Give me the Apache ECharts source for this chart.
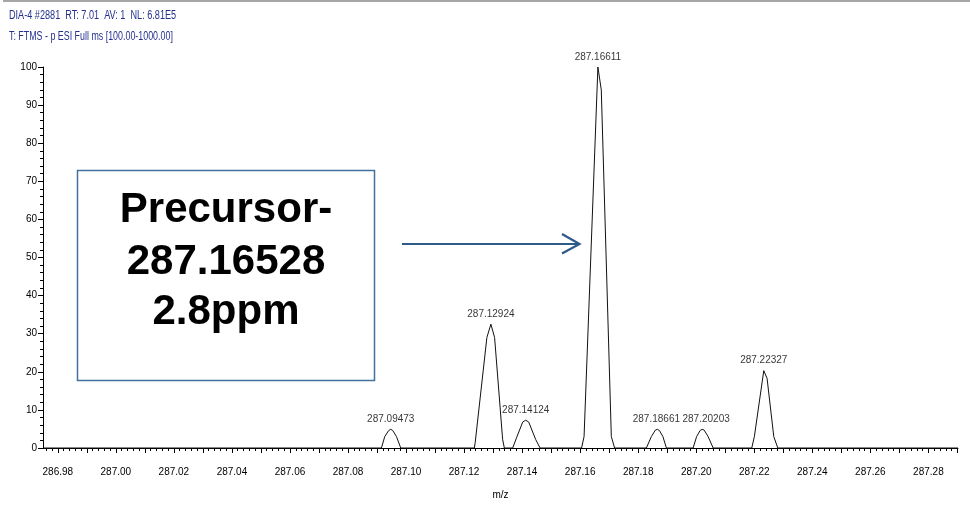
<!DOCTYPE html>
<html><head><meta charset="utf-8">
<script src="https://cdn.jsdelivr.net/npm/echarts@6/dist/echarts.min.js"></script>
<style>html,body{margin:0;padding:0;background:#fff}#c{width:970px;height:505px}</style>
</head><body><div id="c"></div>
<script>
// ---- data ----
const headerLine1 = 'DIA-4 #2881  RT: 7.01  AV: 1  NL: 6.81E5';
const headerLine2 = 'T: FTMS - p ESI Full ms [100.00-1000.00]';
const xTickLabels = ['286.98','287.00','287.02','287.04','287.06','287.08','287.10','287.12','287.14','287.16','287.18','287.20','287.22','287.24','287.26','287.28'];
const yTickLabels = ['0','10','20','30','40','50','60','70','80','90','100'];
const xAxisTitle = 'm/z';
const profileMz = [
  286.9749,
  287.09152, 287.09266, 287.09404, 287.09473, 287.09542, 287.09670, 287.09818,
  287.12354, 287.12384, 287.12786, 287.12924, 287.13052, 287.13328, 287.13387,
  287.13675, 287.13813, 287.14020, 287.14124, 287.14228, 287.14469, 287.14618,
  287.16048, 287.16135, 287.16611, 287.16728, 287.17074, 287.17187,
  287.18281, 287.18454, 287.18592, 287.18661, 287.18730, 287.18851, 287.18972,
  287.19892, 287.20013, 287.20134, 287.20203, 287.20272, 287.20410, 287.20583,
  287.21913, 287.22003, 287.22327, 287.22441, 287.22672, 287.22810,
  287.2902
];
const profileIntensity = [
  0,
  0, 3, 4.6, 4.9, 4.6, 3, 0,
  0, 1.5, 29, 32.5, 29, 2.3, 0,
  0, 2.8, 6.8, 7.3, 6.8, 2.2, 0,
  0, 3, 100, 94, 3, 0,
  0, 3, 4.7, 4.9, 4.6, 3, 0,
  0, 3, 4.6, 4.9, 4.7, 3, 0,
  0, 3, 20.3, 18.3, 3, 0,
  0
];
const peakMz = [287.09473, 287.12924, 287.14124, 287.16611, 287.18661, 287.20203, 287.22327];
const peakIntensity = [4.9, 32.5, 7.3, 100, 4.9, 4.9, 20.3];
const peakLabels = ['287.09473','287.12924','287.14124','287.16611','287.18661','287.20203','287.22327'];
const annotationLines = ['Precursor-', '287.16528', '2.8ppm'];

// ---- chart ----
const FONT = '"Liberation Sans", Arial, sans-serif';
const xMin = 286.9749, xMax = 287.2902;
const majorTicks = [];
for (let i = 0; i <= 31; i++) majorTicks.push(+(286.98 + i * 0.01).toFixed(2));
const minorTicks = [];
for (let i = 0; i <= 157; i++) minorTicks.push(+(286.976 + i * 0.002).toFixed(3));
const labelShift = [0, 0, 0, 0, -1, 4, 0];

const chart = echarts.init(document.getElementById('c'), null, {renderer: 'canvas'});
const labelStyle = {color: '#000', fontFamily: FONT, fontSize: 10};
chart.setOption({
  animation: false,
  backgroundColor: '#fff',
  grid: {left: 43, right: 12, top: 67, bottom: 53, containLabel: false},
  xAxis: [{
    type: 'value', min: xMin, max: xMax, position: 'bottom',
    name: xAxisTitle, nameLocation: 'middle', nameGap: 42,
    nameTextStyle: {color: '#000', fontFamily: FONT, fontSize: 10},
    axisLine: {show: true, lineStyle: {color: '#000', width: 1}},
    axisTick: {show: true, length: 5, customValues: majorTicks, lineStyle: {color: '#000'}},
    axisLabel: Object.assign({customValues: xTickLabels.map(Number), margin: 19,
      formatter: v => (+v).toFixed(2)}, labelStyle),
    splitLine: {show: false}
  }, {
    type: 'value', min: xMin, max: xMax, position: 'bottom',
    axisLine: {show: false},
    axisTick: {show: true, length: 3, customValues: minorTicks, lineStyle: {color: '#000'}},
    axisLabel: {show: false},
    splitLine: {show: false}
  }],
  yAxis: {
    type: 'value', min: 0, max: 100, interval: 10,
    axisLine: {show: true, lineStyle: {color: '#000', width: 1}},
    axisTick: {show: true, length: 5, lineStyle: {color: '#000'}},
    minorTick: {show: true, splitNumber: 5, length: 3, lineStyle: {color: '#000'}},
    axisLabel: Object.assign({margin: 6, formatter: v => yTickLabels[Math.round(v / 10)]}, labelStyle),
    splitLine: {show: false}
  },
  series: [{
    type: 'line', xAxisIndex: 0,
    data: profileMz.map((m, i) => [m, profileIntensity[i]]),
    showSymbol: false, symbol: 'none',
    lineStyle: {color: '#111', width: 1},
    clip: false, z: 3
  }, {
    type: 'scatter', xAxisIndex: 0,
    data: peakMz.map((m, i) => ({value: [m, peakIntensity[i]], label: {offset: [labelShift[i], 0]}})),
    symbolSize: 0.1,
    itemStyle: {color: 'rgba(0,0,0,0)'},
    label: {show: true, position: 'top', distance: 5,
      formatter: p => peakLabels[p.dataIndex],
      color: '#000', fontFamily: FONT, fontSize: 10},
    z: 4
  }],
  graphic: [
    {type: 'line', shape: {x1: 3, y1: 1, x2: 970, y2: 1}, style: {stroke: '#a6a6a6', lineWidth: 2}},
    {type: 'text', x: 9, y: 16, scaleX: 0.76, style: {text: headerLine1, font: '12px ' + FONT, fill: '#24308f', verticalAlign: 'middle'}},
    {type: 'text', x: 9, y: 37, scaleX: 0.74, style: {text: headerLine2, font: '12px ' + FONT, fill: '#24308f', verticalAlign: 'middle'}},
    {type: 'rect', shape: {x: 77.5, y: 170.5, width: 297, height: 210}, style: {fill: '#fff', stroke: '#41719c', lineWidth: 1.5}, z: 10},
    {type: 'text', x: 226, y: 210, z: 11, style: {text: annotationLines[0], font: 'bold 42px ' + FONT, fill: '#000', align: 'center', verticalAlign: 'middle'}},
    {type: 'text', x: 226, y: 262, z: 11, style: {text: annotationLines[1], font: 'bold 42px ' + FONT, fill: '#000', align: 'center', verticalAlign: 'middle'}},
    {type: 'text', x: 226, y: 312, z: 11, style: {text: annotationLines[2], font: 'bold 42px ' + FONT, fill: '#000', align: 'center', verticalAlign: 'middle'}},
    {type: 'line', shape: {x1: 402, y1: 244, x2: 579, y2: 244}, style: {stroke: '#2e5a8a', lineWidth: 2.2}, z: 10},
    {type: 'polyline', shape: {points: [[562, 234], [579.5, 244], [562, 253.5]]}, style: {stroke: '#2e5a8a', lineWidth: 2.2, fill: null}, z: 10}
  ]
});
</script></body></html>
